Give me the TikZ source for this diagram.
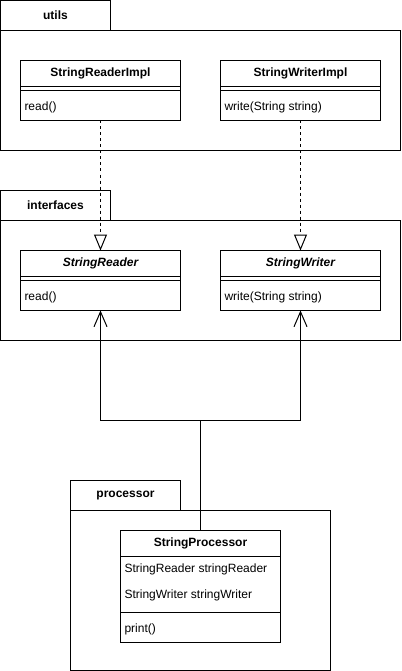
\documentclass[tikz,border=0pt]{standalone}
\usepackage{fontspec}
\setmainfont{Liberation Sans}
\usetikzlibrary{arrows.meta}
\begin{document}
\begin{tikzpicture}[x=1pt,y=-1pt,line width=1pt,
  every node/.style={inner sep=0pt,outer sep=0pt,font=\fontsize{12}{14}\selectfont},
  pkgtab/.style={draw,anchor=north west,minimum width=110pt,minimum height=30pt,font=\fontsize{12}{14}\selectfont\bfseries},
  pkgbody/.style={draw,anchor=north west,minimum height=120pt},
  classbox/.style={draw,anchor=north west,minimum width=160pt},
  cname/.style={font=\fontsize{12}{14}\selectfont\bfseries},
  iname/.style={font=\fontsize{12}{14}\selectfont\bfseries\itshape},
  member/.style={anchor=west},
  realize/.style={dash pattern=on 3pt off 3pt,-{Triangle[open,length=16pt,width=13pt,fill=white]}},
  assoc/.style={-{Straight Barb[length=15pt,width=13pt]}}
]
\useasboundingbox (0,0) rectangle (401,671);

% ---- package utils ----
\node[pkgtab] (utilstab) at (0.5,0.5) {utils};
\node[pkgbody,minimum width=400pt] (utils) at (0.5,30.5) {};

\node[classbox,minimum height=60pt] (sri) at (20.5,60.5) {};
\node[cname] (srin) at (100.5,73.5) {StringReaderImpl};
\draw (20.5,86.5) -- (180.5,86.5) (20.5,90.5) -- (180.5,90.5);
\node[member] (srim) at (24.5,107.5) {read()};

\node[classbox,minimum height=60pt] (swi) at (220.5,60.5) {};
\node[cname] (swin) at (300.5,73.5) {StringWriterImpl};
\draw (220.5,86.5) -- (380.5,86.5) (220.5,90.5) -- (380.5,90.5);
\node[member] (swim) at (224.5,107.5) {write(String string)};

% ---- package interfaces ----
\node[pkgtab] (ifacetab) at (0.5,190.5) {interfaces};
\node[pkgbody,minimum width=400pt] (iface) at (0.5,220.5) {};

\node[classbox,minimum height=60pt] (sr) at (20.5,250.5) {};
\node[iname] (srn) at (100.5,263.5) {StringReader};
\draw (20.5,276.5) -- (180.5,276.5) (20.5,280.5) -- (180.5,280.5);
\node[member] (srm) at (24.5,297.5) {read()};

\node[classbox,minimum height=60pt] (sw) at (220.5,250.5) {};
\node[iname] (swn) at (300.5,263.5) {StringWriter};
\draw (220.5,276.5) -- (380.5,276.5) (220.5,280.5) -- (380.5,280.5);
\node[member] (swm) at (224.5,297.5) {write(String string)};

% ---- package processor ----
\node[pkgtab] (proctab) at (70.5,480.5) {processor};
\node[pkgbody,minimum width=260pt,minimum height=160pt] (proc) at (70.5,510.5) {};

\node[classbox,minimum height=112pt] (sp) at (120.5,530.5) {};
\node[cname] (spn) at (200.5,543.5) {StringProcessor};
\draw (120.5,556.5) -- (280.5,556.5);
\node[member] (spa1) at (124.5,569.5) {StringReader stringReader};
\node[member] (spa2) at (124.5,595.5) {StringWriter stringWriter};
\draw (120.5,612.5) -- (280.5,612.5);
\node[member] (spm) at (124.5,629.5) {print()};

% ---- relations ----
\draw[realize] (sri.south) -- (sr.north);
\draw[realize] (swi.south) -- (sw.north);

\coordinate (fork) at (200.5,420.5);
\draw (sp.north) -- (fork);
\draw[assoc] (fork) -| (sr.south);
\draw[assoc] (fork) -| (sw.south);
\end{tikzpicture}
\end{document}
